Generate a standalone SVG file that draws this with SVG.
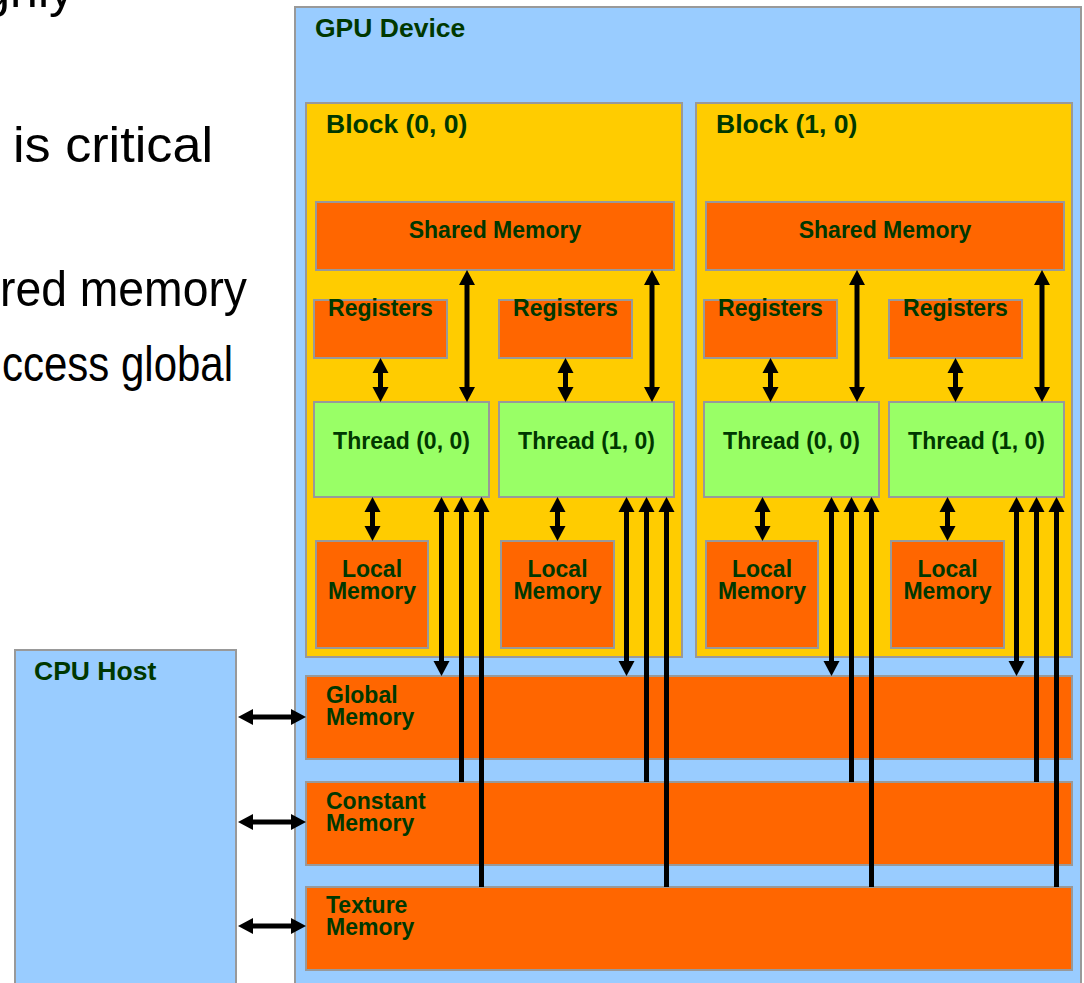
<svg xmlns="http://www.w3.org/2000/svg" width="1084" height="983" viewBox="0 0 1084 983">
  <style>
    .slide { font-family: "Liberation Sans", Arial, sans-serif; font-size: 50px; fill: #000; }
    .box { stroke: #999999; stroke-width: 2; }
    .host { fill: #99CCFF; }
    .block { fill: #FFCC00; }
    .mem { fill: #FF6600; }
    .thread { fill: #99FF66; }
    .lbl { font-family: "Liberation Sans", Arial, sans-serif; font-weight: bold; fill: #003800; }
    .big { font-size: 26.5px; }
    .mid { font-size: 23px; }
    .ctr { text-anchor: middle; }
    .conn line { stroke: #000; stroke-width: 5; fill: none; }
    .both { marker-start: url(#head); marker-end: url(#head); }
    .up { marker-start: url(#head); }
  </style>
  <defs>
    <marker id="head" markerUnits="userSpaceOnUse" markerWidth="16" markerHeight="16" refX="0" refY="8" orient="auto-start-reverse" overflow="visible">
      <path d="M0,0 L15,8 L0,16 Z" fill="#000"/>
    </marker>
  </defs>

  <rect width="1084" height="983" fill="#FFFFFF"/>

  <!-- slide text running behind the figure -->
  <g id="slide-text">
    <text class="slide" x="74" y="7" text-anchor="end">ghly</text>
    <text class="slide" x="13" y="162" textLength="200" lengthAdjust="spacingAndGlyphs">is critical</text>
    <text class="slide" x="0" y="306" textLength="247" lengthAdjust="spacingAndGlyphs">red memory</text>
    <text class="slide" x="2" y="381" textLength="231" lengthAdjust="spacingAndGlyphs">ccess global</text>
  </g>

  <g id="cpu-host">
    <rect class="box host" x="15" y="650" width="221" height="345"/>
    <text class="lbl big" x="34" y="680">CPU Host</text>
  </g>

  <g id="gpu-device">
    <rect class="box host" x="295" y="7" width="786" height="990"/>
    <text class="lbl big" x="315" y="37">GPU Device</text>
  </g>

  <!-- Block (0, 0) -->
  <g id="block-0-0">
    <rect class="box block" x="306" y="103" width="376" height="554"/>
    <text class="lbl big" x="326" y="133">Block (0, 0)</text>
  </g>
  <g id="shared-0">
    <rect class="box mem" x="316" y="202" width="358" height="68"/>
    <text class="lbl mid ctr" x="495" y="238">Shared Memory</text>
  </g>
  <g id="regs-0-0">
    <rect class="box mem" x="314" y="300" width="133" height="58"/>
    <text class="lbl mid ctr" x="380.5" y="316">Registers</text>
  </g>
  <g id="regs-0-1">
    <rect class="box mem" x="499" y="300" width="133" height="58"/>
    <text class="lbl mid ctr" x="565.5" y="316">Registers</text>
  </g>
  <g id="thread-0-0">
    <rect class="box thread" x="314" y="402" width="175" height="95"/>
    <text class="lbl mid ctr" x="401.5" y="449">Thread (0, 0)</text>
  </g>
  <g id="thread-0-1">
    <rect class="box thread" x="499" y="402" width="175" height="95"/>
    <text class="lbl mid ctr" x="586.5" y="449">Thread (1, 0)</text>
  </g>
  <g id="local-0-0">
    <rect class="box mem" x="316" y="541" width="112" height="107"/>
    <text class="lbl mid ctr" x="372" y="577">Local</text>
    <text class="lbl mid ctr" x="372" y="599">Memory</text>
  </g>
  <g id="local-0-1">
    <rect class="box mem" x="501" y="541" width="113" height="107"/>
    <text class="lbl mid ctr" x="557.5" y="577">Local</text>
    <text class="lbl mid ctr" x="557.5" y="599">Memory</text>
  </g>

  <!-- Block (1, 0) -->
  <g id="block-1-0">
    <rect class="box block" x="696" y="103" width="376" height="554"/>
    <text class="lbl big" x="716" y="133">Block (1, 0)</text>
  </g>
  <g id="shared-1">
    <rect class="box mem" x="706" y="202" width="358" height="68"/>
    <text class="lbl mid ctr" x="885" y="238">Shared Memory</text>
  </g>
  <g id="regs-1-0">
    <rect class="box mem" x="704" y="300" width="133" height="58"/>
    <text class="lbl mid ctr" x="770.5" y="316">Registers</text>
  </g>
  <g id="regs-1-1">
    <rect class="box mem" x="889" y="300" width="133" height="58"/>
    <text class="lbl mid ctr" x="955.5" y="316">Registers</text>
  </g>
  <g id="thread-1-0">
    <rect class="box thread" x="704" y="402" width="175" height="95"/>
    <text class="lbl mid ctr" x="791.5" y="449">Thread (0, 0)</text>
  </g>
  <g id="thread-1-1">
    <rect class="box thread" x="889" y="402" width="175" height="95"/>
    <text class="lbl mid ctr" x="976.5" y="449">Thread (1, 0)</text>
  </g>
  <g id="local-1-0">
    <rect class="box mem" x="706" y="541" width="112" height="107"/>
    <text class="lbl mid ctr" x="762" y="577">Local</text>
    <text class="lbl mid ctr" x="762" y="599">Memory</text>
  </g>
  <g id="local-1-1">
    <rect class="box mem" x="891" y="541" width="113" height="107"/>
    <text class="lbl mid ctr" x="947.5" y="577">Local</text>
    <text class="lbl mid ctr" x="947.5" y="599">Memory</text>
  </g>

  <!-- device-wide memories -->
  <g id="global-memory">
    <rect class="box mem" x="306" y="676" width="766" height="83"/>
    <text class="lbl mid" x="326" y="703">Global</text>
    <text class="lbl mid" x="326" y="725">Memory</text>
  </g>
  <g id="constant-memory">
    <rect class="box mem" x="306" y="782" width="766" height="83"/>
    <text class="lbl mid" x="326" y="809">Constant</text>
    <text class="lbl mid" x="326" y="831">Memory</text>
  </g>
  <g id="texture-memory">
    <rect class="box mem" x="306" y="887" width="766" height="83"/>
    <text class="lbl mid" x="326" y="913">Texture</text>
    <text class="lbl mid" x="326" y="935">Memory</text>
  </g>

  <!-- connectors: endpoints sit at the arrowhead bases, heads reach the box edges -->
  <g id="connectors" class="conn">
    <!-- host <-> device memories -->
    <line class="both" x1="253" y1="717" x2="291" y2="717"/>
    <line class="both" x1="253" y1="822" x2="291" y2="822"/>
    <line class="both" x1="253" y1="926" x2="291" y2="926"/>

    <!-- block (0, 0) -->
    <line class="both" x1="380.5" y1="373" x2="380.5" y2="387"/>
    <line class="both" x1="565.5" y1="373" x2="565.5" y2="387"/>
    <line class="both" x1="467" y1="285" x2="467" y2="387"/>
    <line class="both" x1="652" y1="285" x2="652" y2="387"/>
    <line class="both" x1="372.5" y1="512" x2="372.5" y2="526"/>
    <line class="both" x1="557.5" y1="512" x2="557.5" y2="526"/>
    <line class="both" x1="441.5" y1="512" x2="441.5" y2="661"/>
    <line class="both" x1="626.5" y1="512" x2="626.5" y2="661"/>
    <line class="up" x1="461.5" y1="512" x2="461.5" y2="782"/>
    <line class="up" x1="646.5" y1="512" x2="646.5" y2="782"/>
    <line class="up" x1="481.5" y1="512" x2="481.5" y2="887"/>
    <line class="up" x1="666.5" y1="512" x2="666.5" y2="887"/>

    <!-- block (1, 0) -->
    <line class="both" x1="770.5" y1="373" x2="770.5" y2="387"/>
    <line class="both" x1="955.5" y1="373" x2="955.5" y2="387"/>
    <line class="both" x1="857" y1="285" x2="857" y2="387"/>
    <line class="both" x1="1042" y1="285" x2="1042" y2="387"/>
    <line class="both" x1="762.5" y1="512" x2="762.5" y2="526"/>
    <line class="both" x1="947.5" y1="512" x2="947.5" y2="526"/>
    <line class="both" x1="831.5" y1="512" x2="831.5" y2="661"/>
    <line class="both" x1="1016.5" y1="512" x2="1016.5" y2="661"/>
    <line class="up" x1="851.5" y1="512" x2="851.5" y2="782"/>
    <line class="up" x1="1036.5" y1="512" x2="1036.5" y2="782"/>
    <line class="up" x1="871.5" y1="512" x2="871.5" y2="887"/>
    <line class="up" x1="1056.5" y1="512" x2="1056.5" y2="887"/>
  </g>
</svg>
